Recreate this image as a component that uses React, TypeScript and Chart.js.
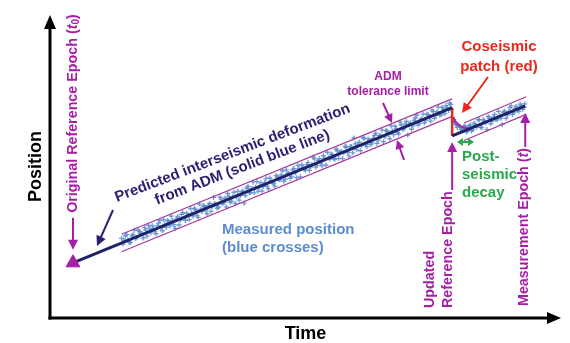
import { useEffect, useRef } from "react";
import { Chart, registerables } from "chart.js";

Chart.register(...registerables);

// ---------- data (time / position in arbitrary diagram units) ----------
const measuredTime = [
  14.0, 14.5, 15.0, 15.5, 16.0, 16.5, 17.0, 17.5, 18.0, 18.5, 19.0, 19.5, 20.0, 20.5, 21.0, 21.5,
  22.0, 22.5, 23.0, 23.5, 24.0, 24.5, 25.0, 25.5, 26.0, 26.5, 27.0, 27.5, 28.0, 28.5, 29.0, 29.5,
  30.0, 30.5, 31.0, 31.5, 32.0, 32.5, 33.0, 33.5, 34.0, 34.5, 35.0, 35.5, 36.0, 36.5, 37.0, 37.5,
  38.0, 38.5, 39.0, 39.5, 40.0, 40.5, 41.0, 41.5, 42.0, 42.5, 43.0, 43.5, 44.0, 44.5, 45.0, 45.5,
  46.0, 46.5, 47.0, 47.5, 48.0, 48.5, 49.0, 49.5, 50.0, 50.5, 51.0, 51.5, 52.0, 52.5, 53.0, 53.5,
  54.0, 54.5, 55.0, 55.5, 56.0, 56.5, 57.0, 57.5, 58.0, 58.5, 59.0, 59.5, 60.0, 60.5, 61.0, 61.5,
  62.0, 62.5, 63.0, 63.5, 64.0, 64.5, 65.0, 65.5, 66.0, 66.5, 67.0, 67.5, 68.0, 68.5, 69.0, 69.5,
  70.0, 70.5, 71.0, 71.5, 72.0, 72.5, 73.0, 73.5, 74.0, 74.5, 75.0, 75.5, 76.0, 76.5, 77.0, 77.5,
  78.0, 78.4,
  14.25, 14.75, 15.25, 15.75, 16.25, 16.75, 17.25, 17.75, 18.25, 18.75, 19.25, 19.75, 20.25, 20.75,
  21.25, 21.75, 22.25, 22.75, 23.25, 23.75, 24.25, 24.75, 25.25, 25.75, 26.25, 26.75, 27.25, 27.75,
  28.25, 28.75, 29.25, 29.75, 30.25, 30.75, 31.25, 31.75, 32.25, 32.75, 33.25, 33.75, 34.25, 34.75,
  35.25, 35.75, 36.25, 36.75, 37.25, 37.75, 38.25, 38.75, 39.25, 39.75, 40.25, 40.75, 41.25, 41.75,
  42.25, 42.75, 43.25, 43.75, 44.25, 44.75, 45.25, 45.75, 46.25, 46.75, 47.25, 47.75, 48.25, 48.75,
  49.25, 49.75, 50.25, 50.75, 51.25, 51.75, 52.25, 52.75, 53.25, 53.75, 54.25, 54.75, 55.25, 55.75,
  56.25, 56.75, 57.25, 57.75, 58.25, 58.75, 59.25, 59.75, 60.25, 60.75, 61.25, 61.75, 62.25, 62.75,
  63.25, 63.75, 64.25, 64.75, 65.25, 65.75, 66.25, 66.75, 67.25, 67.75, 68.25, 68.75, 69.25, 69.75,
  70.25, 70.75, 71.25, 71.75, 72.25, 72.75, 73.25, 73.75, 74.25, 74.75, 75.25, 75.75, 76.25, 76.75,
  77.25, 77.75, 78.2, 78.55,
];
const measuredPos = [
  26.3, 25.7, 27.6, 25.0, 27.1, 29.0, 26.5, 28.6, 27.9, 29.8, 27.0, 29.5, 30.5, 28.7, 30.4, 32.2,
  28.8, 30.9, 32.2, 30.4, 32.2, 29.6, 33.5, 32.3, 34.8, 32.2, 33.9, 36.1, 33.6, 35.7, 33.2, 35.9,
  37.1, 35.6, 37.2, 35.2, 39.8, 37.3, 36.6, 39.2, 38.1, 36.7, 40.1, 38.6, 41.5, 40.0, 38.9, 41.6,
  37.9, 42.9, 41.3, 42.7, 41.3, 45.0, 43.2, 41.9, 44.7, 43.5, 46.2, 44.7, 43.5, 46.6, 45.6, 48.6,
  45.8, 47.6, 46.1, 48.9, 47.9, 50.4, 46.6, 49.8, 48.8, 51.3, 49.9, 53.1, 49.8, 52.0, 51.1, 53.6,
  50.5, 52.9, 54.1, 52.7, 55.7, 52.7, 55.0, 54.5, 56.4, 53.5, 56.6, 59.4, 55.6, 58.0, 57.0, 59.3,
  56.6, 58.6, 57.8, 60.3, 57.6, 60.3, 62.0, 59.8, 61.6, 59.2, 61.7, 63.3, 61.2, 64.7, 62.3, 64.1,
  60.4, 64.4, 63.4, 66.0, 63.7, 65.4, 67.3, 65.2, 67.1, 65.0, 68.1, 66.9, 69.6, 67.0, 68.9, 70.1,
  68.5, 70.5,
  24.4, 27.1, 25.8, 24.9, 27.5, 26.3, 29.0, 27.9, 26.4, 29.0, 30.6, 28.1, 29.5, 27.8,
  31.3, 29.9, 32.4, 29.9, 31.8, 33.6, 30.8, 32.7, 30.7, 34.2, 32.9, 34.5, 32.5, 34.6,
  36.2, 33.9, 37.6, 35.1, 36.8, 34.4, 37.8, 36.8, 37.8, 36.2, 39.9, 37.7, 39.6, 41.1,
  38.2, 40.0, 37.8, 41.8, 40.4, 41.9, 40.4, 43.4, 41.4, 44.9, 43.2, 41.9, 44.6, 43.4,
  46.0, 42.6, 45.2, 44.4, 47.0, 45.7, 47.2, 45.1, 48.9, 47.7, 46.7, 49.3, 46.3, 49.3,
  50.6, 49.0, 50.6, 48.7, 50.6, 52.5, 50.4, 52.6, 50.2, 52.6, 54.7, 52.4, 53.9, 52.4,
  55.2, 54.5, 52.6, 56.6, 54.7, 56.5, 54.5, 57.5, 57.0, 55.2, 59.5, 57.3, 59.1, 57.3,
  59.3, 60.9, 58.7, 60.1, 58.2, 61.9, 60.6, 63.4, 60.5, 62.5, 60.8, 63.7, 62.4, 64.9,
  63.8, 62.3, 65.2, 67.0, 64.2, 65.7, 64.4, 67.3, 66.2, 68.6, 65.9, 68.1, 67.1, 69.5,
  67.5, 69.3, 70.9, 68.9,
];
const postTime = [
  79.0, 79.3, 79.5, 80.0, 80.5, 81.0, 81.5, 82.0, 82.5, 83.0, 83.5, 84.0, 84.5, 85.0, 85.5, 86.0,
  86.5, 87.0, 87.5, 88.0, 88.5, 89.0, 89.5, 90.0, 90.5, 91.0, 91.5, 92.0, 92.5, 92.9,
  79.15, 79.7, 80.25, 80.75, 81.25, 81.75, 82.25, 82.75, 83.25, 83.75, 84.25, 84.75, 85.25, 85.75,
  86.25, 86.75, 87.25, 87.75, 88.25, 88.75, 89.25, 89.75, 90.25, 90.75, 91.25, 91.75, 92.25, 92.75,
];
const postPos = [
  65.5, 64.5, 63.7, 63.6, 62.3, 63.1, 61.4, 63.3, 61.7, 64.3, 63.0, 65.4, 62.8, 65.0, 62.2, 66.0,
  65.0, 67.2, 65.4, 66.8, 63.9, 68.3, 67.0, 69.4, 67.2, 69.2, 68.6, 70.6, 68.9, 70.7,
  64.7, 62.9, 63.1, 61.8, 63.4, 61.9, 63.7, 62.2, 63.7, 65.5, 63.0, 65.5, 64.4, 66.5,
  64.1, 66.3, 65.5, 68.2, 65.9, 67.9, 65.9, 68.1, 70.0, 67.8, 69.8, 68.2, 70.0, 69.5,
];
const admTime = [4.5, 78.7];
const admPos = [18.2, 69.43];
const admPostTime = [78.7, 93.0];
const admPostPos = [60.1, 70.0];
const bandTime = [14.0, 78.7];
const bandUpper = [27.66, 72.33];
const bandLower = [21.86, 66.53];
const bandPostTime = [81.0, 93.2];
const bandPostUpper = [64.38, 73.0];
const bandPostLower = [58.58, 67.2];
const coseismicTime = [78.7, 78.7];
const coseismicPos = [69.43, 60.1];
const decayTime = [78.9, 79.3, 79.8, 80.4, 81.1, 81.9];
const decayPos = [66.3, 64.9, 63.9, 63.2, 62.8, 62.6];
const epochTime = [4.5];
const epochPos = [18.2];

// ---------- styles ----------
const FONT = '"Liberation Sans", Arial, Helvetica, sans-serif';
const PURPLE = "#a61ea6";
const NAVY = "#1f2266";
const NAVY_TEXT = "#2a1f72";
const BAND = "#a8379c";
const RED = "#e8291c";
const GREEN = "#2ca84c";
const BLUE_TEXT = "#5b8dcf";
const POINT_BLUE = "rgba(84,136,205,0.85)";

const xy = (xs: number[], ys: number[]) => xs.map((x, i) => ({ x, y: ys[i] }));

function arrow(
  ctx: CanvasRenderingContext2D,
  x1: number, y1: number, x2: number, y2: number,
  color: string, width: number, head = 10, half = 5, both = false
) {
  const a = Math.atan2(y2 - y1, x2 - x1);
  ctx.save();
  ctx.strokeStyle = color;
  ctx.fillStyle = color;
  ctx.lineWidth = width;
  ctx.lineCap = "butt";
  const sx = both ? x1 + Math.cos(a) * head * 0.8 : x1;
  const sy = both ? y1 + Math.sin(a) * head * 0.8 : y1;
  ctx.beginPath();
  ctx.moveTo(sx, sy);
  ctx.lineTo(x2 - Math.cos(a) * head * 0.8, y2 - Math.sin(a) * head * 0.8);
  ctx.stroke();
  const tri = (tx: number, ty: number, ang: number) => {
    ctx.beginPath();
    ctx.moveTo(tx, ty);
    ctx.lineTo(tx - Math.cos(ang) * head - Math.sin(ang) * half, ty - Math.sin(ang) * head + Math.cos(ang) * half);
    ctx.lineTo(tx - Math.cos(ang) * head + Math.sin(ang) * half, ty - Math.sin(ang) * head - Math.cos(ang) * half);
    ctx.closePath();
    ctx.fill();
  };
  tri(x2, y2, a);
  if (both) tri(x1, y1, a + Math.PI);
  ctx.restore();
}

type Part = { t: string; font: string; dy?: number };

function richText(
  ctx: CanvasRenderingContext2D, parts: Part[], x: number, y: number,
  color: string, angle = 0, baseline: CanvasTextBaseline = "middle"
) {
  ctx.save();
  ctx.translate(x, y);
  ctx.rotate(angle);
  ctx.fillStyle = color;
  ctx.textAlign = "left";
  ctx.textBaseline = baseline;
  let cx = 0;
  for (const p of parts) {
    ctx.font = p.font;
    ctx.fillText(p.t, cx, p.dy || 0);
    cx += ctx.measureText(p.t).width;
  }
  ctx.restore();
}

function text(
  ctx: CanvasRenderingContext2D, s: string, x: number, y: number, font: string,
  color: string, align: CanvasTextAlign = "left", baseline: CanvasTextBaseline = "middle", angle = 0
) {
  ctx.save();
  ctx.translate(x, y);
  ctx.rotate(angle);
  ctx.font = font;
  ctx.fillStyle = color;
  ctx.textAlign = align;
  ctx.textBaseline = baseline;
  ctx.fillText(s, 0, 0);
  ctx.restore();
}

const diagramPlugin = {
  id: "diagram",
  afterDatasetsDraw(chart: any) {
    const ctx: CanvasRenderingContext2D = chart.ctx;
    const { left, right, top, bottom } = chart.chartArea;
    const xs = chart.scales.x;
    const ys = chart.scales.y;
    const B = (s: number) => `bold ${s}px ${FONT}`;
    const BI = (s: number) => `italic bold ${s}px ${FONT}`;
    const V = 14.3;

    // axes with arrowheads
    arrow(ctx, left, bottom + 1.5, left, top, "#000", 3, 14, 6);
    arrow(ctx, left - 1.5, bottom, right, bottom, "#000", 3, 14, 6);
    text(ctx, "Position", left - 14, (top + bottom) / 2, B(18), "#000", "center", "middle", -Math.PI / 2);
    text(ctx, "Time", (left + right) / 2, bottom + 16, B(18), "#000", "center", "middle");

    // original reference epoch
    const ex = xs.getPixelForValue(epochTime[0]);
    const ey = ys.getPixelForValue(epochPos[0]);
    arrow(ctx, ex, ey - 45, ex, ey - 13, PURPLE, 2, 10, 5);
    richText(ctx, [
      { t: "Original Reference Epoch (", font: B(V) },
      { t: "t", font: BI(V) },
      { t: "0", font: B(10), dy: 3 },
      { t: ")", font: B(V) },
    ], ex, ey - 50, PURPLE, -Math.PI / 2);

    // updated reference epoch
    const bx = xs.getPixelForValue(coseismicTime[1]);
    const by = ys.getPixelForValue(coseismicPos[1]);
    text(ctx, "Updated", bx - 22, bottom - 10, B(V), PURPLE, "left", "middle", -Math.PI / 2);
    text(ctx, "Reference Epoch", bx - 4, bottom - 10, B(V), PURPLE, "left", "middle", -Math.PI / 2);
    arrow(ctx, bx, by + 54, bx, by + 6, PURPLE, 2, 10, 5);

    // measurement epoch
    const mx = xs.getPixelForValue(admPostTime[1]);
    const my = ys.getPixelForValue(admPostPos[1]);
    richText(ctx, [
      { t: "Measurement Epoch (", font: B(V) },
      { t: "t", font: BI(V) },
      { t: ")", font: B(V) },
    ], mx - 1, bottom - 12, PURPLE, -Math.PI / 2);
    arrow(ctx, mx, my + 41, mx, my + 7, PURPLE, 2, 10, 5);

    // predicted interseismic deformation
    const ang = -21 * Math.PI / 180;
    ctx.save();
    ctx.translate(234, 157);
    ctx.rotate(ang);
    ctx.font = B(15);
    ctx.fillStyle = NAVY_TEXT;
    ctx.textAlign = "center";
    ctx.textBaseline = "alphabetic";
    ctx.fillText("Predicted interseismic deformation", 0, 0);
    ctx.fillText("from ADM (solid blue line)", 4, 17);
    ctx.restore();
    arrow(ctx, 113, 210, 97, 246, NAVY_TEXT, 2, 10, 5);

    // ADM tolerance limit
    text(ctx, "ADM", 388, 77, B(12), PURPLE, "center");
    text(ctx, "tolerance limit", 388, 92, B(12), PURPLE, "center");
    arrow(ctx, 383, 103, 392, 123, PURPLE, 2, 9, 4.5);
    arrow(ctx, 404, 160, 397, 140, PURPLE, 2, 9, 4.5);

    // coseismic patch
    text(ctx, "Coseismic", 499, 47, B(15), RED, "center");
    text(ctx, "patch (red)", 499, 67, B(15), RED, "center");
    arrow(ctx, 488, 77, 462, 113, RED, 2, 10, 5);

    // post-seismic decay
    arrow(ctx, 457, 142, 474, 142, GREEN, 2, 6, 4, true);
    text(ctx, "Post-", 462, 157, B(15), GREEN);
    text(ctx, "seismic", 462, 175, B(15), GREEN);
    text(ctx, "decay", 462, 193, B(15), GREEN);

    // measured position
    text(ctx, "Measured position", 222, 230, B(15), BLUE_TEXT);
    text(ctx, "(blue crosses)", 222, 248, B(15), BLUE_TEXT);
  },
};

export default function App() {
  const ref = useRef<HTMLCanvasElement | null>(null);

  useEffect(() => {
    if (!ref.current) return;
    const lineDs = (data: any, color: string, width: number, order: number) => ({
      data, borderColor: color, backgroundColor: color, borderWidth: width,
      showLine: true, pointRadius: 0, order, tension: 0,
    });
    const chart = new Chart(ref.current, {
      type: "scatter",
      data: {
        datasets: [
          {
            data: xy(epochTime, epochPos), pointStyle: "triangle", pointRadius: 8,
            backgroundColor: PURPLE, borderColor: PURPLE, borderWidth: 1, order: 0,
          } as any,
          lineDs(xy(admTime, admPos), NAVY, 3, 1),
          lineDs(xy(admPostTime, admPostPos), NAVY, 3, 1),
          lineDs(xy(coseismicTime, coseismicPos), RED, 2.5, 1),
          { ...lineDs(xy(decayTime, decayPos), "#9a36b0", 2.5, 1), tension: 0.4 },
          lineDs(xy(bandTime, bandUpper), BAND, 1.2, 2),
          lineDs(xy(bandTime, bandLower), BAND, 1.2, 2),
          lineDs(xy(bandPostTime, bandPostUpper), BAND, 1.2, 2),
          lineDs(xy(bandPostTime, bandPostLower), BAND, 1.2, 2),
          {
            data: xy(measuredTime, measuredPos), pointStyle: "cross", pointRadius: 2.5,
            borderColor: POINT_BLUE, backgroundColor: POINT_BLUE, borderWidth: 1.3, order: 5,
          } as any,
          {
            data: xy(postTime, postPos), pointStyle: "cross", pointRadius: 2.5,
            borderColor: POINT_BLUE, backgroundColor: POINT_BLUE, borderWidth: 1.3, order: 5,
          } as any,
        ],
      },
      options: {
        responsive: false,
        animation: false,
        events: [],
        layout: { padding: { left: 50, right: 7, top: 15, bottom: 25 } },
        plugins: { legend: { display: false }, tooltip: { enabled: false } },
        scales: {
          x: { type: "linear", min: 0, max: 100, display: false },
          y: { type: "linear", min: 0, max: 100, display: false },
        },
      },
      plugins: [diagramPlugin],
    });
    return () => chart.destroy();
  }, []);

  return (
    <div style={{ position: "fixed", left: 0, top: 0, width: 570, height: 343, background: "#fff" }}>
      <canvas ref={ref} width={570} height={343} />
    </div>
  );
}
